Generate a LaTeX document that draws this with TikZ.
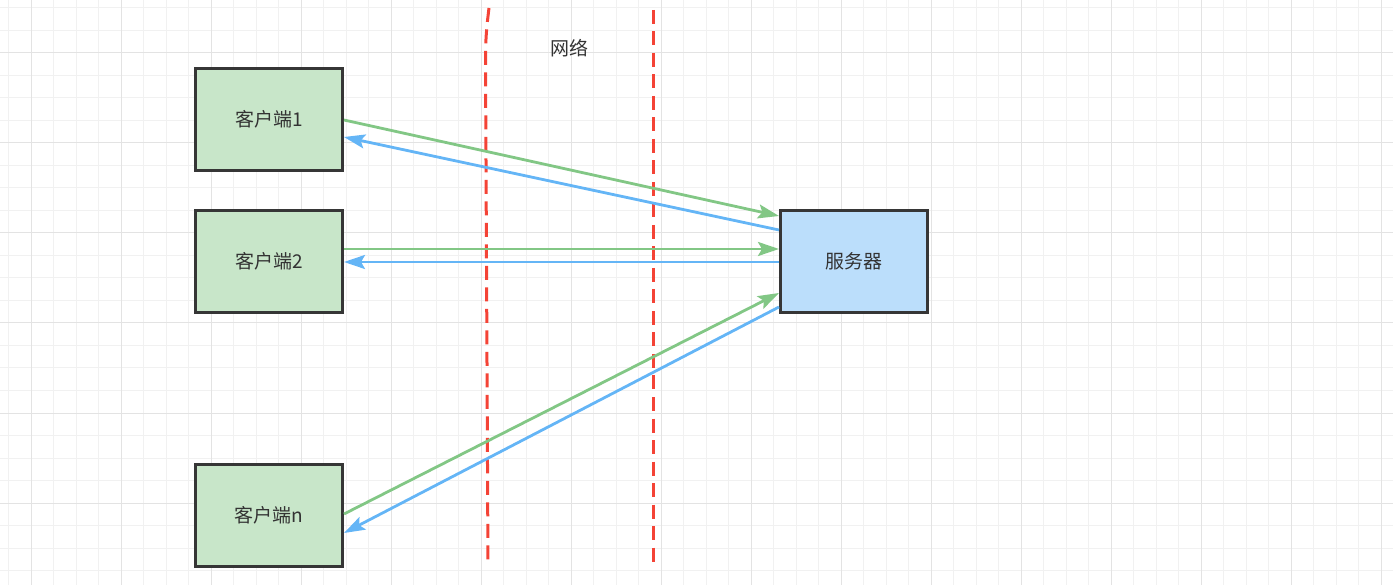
\documentclass[tikz,border=0pt]{standalone}
\usepackage{fontspec}
\setmainfont{Noto Sans CJK SC}
\usepackage{xcolor}
\usetikzlibrary{positioning, arrows.meta}
\definecolor{gridminor}{HTML}{F1F1F1}
\definecolor{gridmajor}{HTML}{E3E3E3}
\definecolor{boxline}{HTML}{363636}
\definecolor{textgray}{HTML}{333333}
\definecolor{clientfill}{HTML}{C8E6C9}
\definecolor{serverfill}{HTML}{BBDEFB}
\definecolor{reqgreen}{HTML}{82C785}
\definecolor{respblue}{HTML}{64B5F6}
\definecolor{netred}{HTML}{F44336}
\tikzset{
	box/.style={draw=boxline, line width=3pt, minimum width=147pt, minimum height=102pt, inner sep=0pt, text=textgray, font=\fontsize{19}{23}\selectfont}, % common look of all boxes
	client/.style={box, fill=clientfill}, % the client boxes
	server/.style={box, fill=serverfill}, % the server box
	req/.style={-{Stealth[length=21pt, width=14pt, inset=4pt]}, line width=2.8pt, draw=reqgreen}, % client to server
	resp/.style={-{Stealth[length=21pt, width=14pt, inset=4pt]}, line width=2.8pt, draw=respblue}, % server to client
	net/.style={draw=netred, line width=3pt, dash pattern=on 14pt off 7.5pt}, % border of the network
}

\begin{document}
\begin{tikzpicture}[x=1pt, y=-1pt, node distance=142pt, on grid]
		\useasboundingbox (0,0) rectangle (1393,585);
		% Background grid
		\foreach \x in {8.5,31,...,1393} \draw[gridminor, line width=1pt] (\x,0) -- (\x,585);
		\foreach \y in {8,30.5,...,585} \draw[gridminor, line width=1pt] (0,\y) -- (1393,\y);
		\foreach \x in {31,121,...,1393} \draw[gridmajor, line width=1pt] (\x,0) -- (\x,585);
		\foreach \y in {53,143,...,585} \draw[gridmajor, line width=1pt] (0,\y) -- (1393,\y);
		
		% Network
		\draw[net] (489,8) .. controls (486.5,28) and (485.5,40) .. (485.5,60) -- (488,566);
		\draw[net] (653,10) -- (653,568);
		\node[font=\fontsize{19}{23}\selectfont, text=textgray] (net) at (569,48) {网络};
		
		% Define boxes
		\node[client] (c1) at (269,119.5) {客户端1};
		\node[client, below=of c1] (c2) {客户端2};
		\node[client, below=254pt of c2] (cn) {客户端n};
		\node[server, right=585pt of c2] (srv) {服务器};
		
		% Requests and replies
		\path
		([yshift=-0.5pt]c1.east) edge[req] ([yshift=45.5pt]srv.west)
		([yshift=31.5pt]srv.west) edge[resp] ([yshift=-17.5pt]c1.east)
		([yshift=12.5pt]c2.east) edge[req] ([yshift=12.5pt]srv.west)
		([yshift=-0.5pt]srv.west) edge[resp] ([yshift=-0.5pt]c2.east)
		([yshift=1.5pt]cn.east) edge[req] ([yshift=-31.5pt]srv.west)
		([yshift=-45.5pt]srv.west) edge[resp] ([yshift=-17.5pt]cn.east);
	\end{tikzpicture}
\end{document}
